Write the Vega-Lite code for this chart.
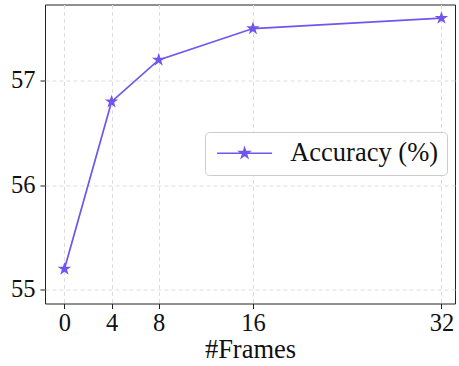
{
  "$schema": "https://vega.github.io/schema/vega-lite/v6.json",
  "width": 410,
  "height": 299,
  "autosize": {"type": "none"},
  "padding": {"left": 45, "top": 4.5, "right": 4, "bottom": 62.5},
  "background": "white",
  "config": {
    "font": "Liberation Serif",
    "view": {"stroke": "#222", "strokeWidth": 1}
  },
  "data": {
    "values": [
      {"frames": 0, "acc": 55.2, "series": "Accuracy (%)"},
      {"frames": 4, "acc": 56.8, "series": "Accuracy (%)"},
      {"frames": 8, "acc": 57.2, "series": "Accuracy (%)"},
      {"frames": 16, "acc": 57.5, "series": "Accuracy (%)"},
      {"frames": 32, "acc": 57.6, "series": "Accuracy (%)"}
    ]
  },
  "encoding": {
    "x": {
      "field": "frames",
      "type": "quantitative",
      "title": "#Frames",
      "scale": {"domain": [-1.65, 33.15], "nice": false, "zero": false},
      "axis": {
        "values": [0, 4, 8, 16, 32],
        "format": "d",
        "labelFontSize": 24.5,
        "titleFontSize": 26.5,
        "titleFontWeight": "normal",
        "labelColor": "#111",
        "titleColor": "#111",
        "domain": false,
        "tickColor": "#222",
        "tickSize": 5,
        "labelPadding": 3,
        "titlePadding": 1,
        "grid": true,
        "gridColor": "#dddddd",
        "gridDash": [4, 3],
        "gridWidth": 1
      }
    },
    "y": {
      "field": "acc",
      "type": "quantitative",
      "title": null,
      "scale": {"domain": [54.87, 57.73], "nice": false, "zero": false},
      "axis": {
        "values": [55, 56, 57],
        "format": "d",
        "labelFontSize": 24.5,
        "labelColor": "#111",
        "domain": false,
        "tickColor": "#222",
        "tickSize": 5,
        "labelPadding": 5,
        "grid": true,
        "gridColor": "#dddddd",
        "gridDash": [4, 3],
        "gridWidth": 1
      }
    },
    "color": {
      "field": "series",
      "type": "nominal",
      "scale": {"range": ["#7155ec"]},
      "legend": {
        "title": null,
        "orient": "none",
        "legendX": 160,
        "legendY": 127.5,
        "labelFontSize": 26.5,
        "labelColor": "#111",
        "fillColor": "white",
        "strokeColor": "#cccccc",
        "cornerRadius": 4,
        "padding": 8,
        "labelOffset": 50.7,
        "symbolType": "M-1,0L5,0M2,-0.54L2.1212,-0.1671L2.5136,-0.1668L2.1962,0.0639L2.3174,0.4368L2,0.2064L1.6826,0.4368L1.8038,0.0639L1.4864,-0.1668L1.8788,-0.1671Z",
        "symbolSize": 336,
        "symbolStrokeWidth": 1.7,
        "symbolFillColor": "#7155ec",
        "symbolStrokeColor": "#7155ec",
        "symbolOpacity": 1
      }
    }
  },
  "layer": [
    {
      "mark": {"type": "line", "strokeWidth": 1.7}
    },
    {
      "mark": {
        "type": "point",
        "shape": "M0,-1L0.2234,-0.3074L0.9511,-0.309L0.3614,0.1174L0.5878,0.809L0,0.38L-0.5878,0.809L-0.3614,0.1174L-0.9511,-0.309L-0.2234,-0.3074Z",
        "size": 200,
        "filled": true,
        "opacity": 1
      }
    }
  ]
}
